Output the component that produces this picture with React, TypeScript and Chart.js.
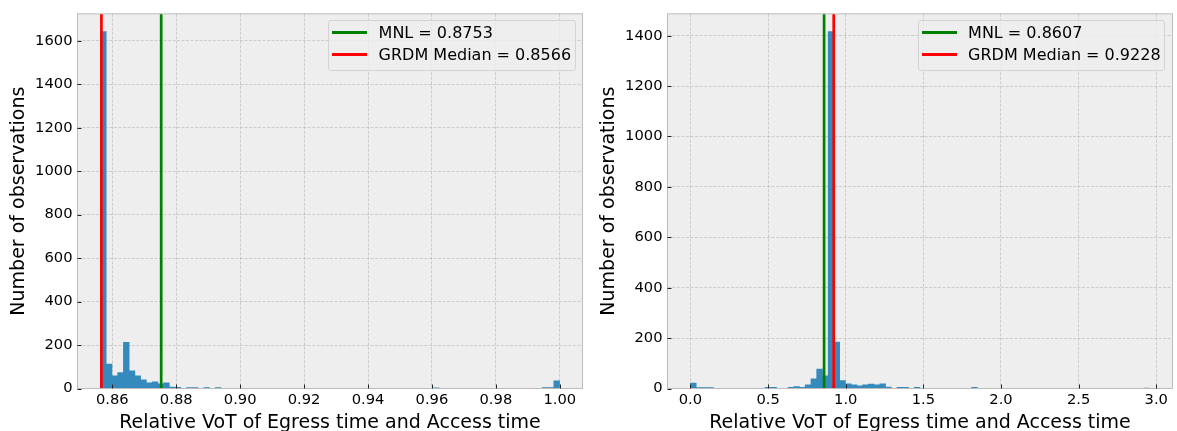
import React, { useEffect, useRef } from "react";
import { Chart, registerables } from "chart.js";

Chart.register(...registerables);

const FONT = "'DejaVu Sans', 'Liberation Sans', sans-serif";

// ---------- Left panel data ----------
const leftBinStart = 0.8563;
const leftBinEnd = 0.99992;
const leftCounts = [
  1642, 112, 58, 73, 213, 81, 58, 40, 26, 31,
  22, 26, 6, 5, 0, 4, 4, 0, 4, 0,
  4, 0, 0, 0, 0, 0, 0, 0, 0, 0,
  0, 0, 0, 0, 0, 0, 0, 0, 0, 0,
  0, 0, 0, 0, 0, 0, 0, 0, 0, 0,
  0, 0, 0, 0, 0, 0, 0, 0, 3, 0,
  0, 0, 0, 0, 0, 0, 0, 0, 0, 0,
  0, 0, 0, 0, 0, 0, 0, 4, 4, 35,
];
const leftMNL = 0.8753;
const leftGRDM = 0.8566;
const leftXTicks = [0.86, 0.88, 0.9, 0.92, 0.94, 0.96, 0.98, 1.0];
const leftXTickLabels = ["0.86", "0.88", "0.90", "0.92", "0.94", "0.96", "0.98", "1.00"];
const leftYTicks = [0, 200, 400, 600, 800, 1000, 1200, 1400, 1600];
const leftYTickLabels = ["0", "200", "400", "600", "800", "1000", "1200", "1400", "1600"];

// ---------- Right panel data ----------
const rightBinStart = 0.0;
const rightBinEnd = 2.957;
const rightCounts = [
  22, 4, 4, 4, 0, 0, 0, 0, 0, 0,
  0, 0, 0, 5, 5, 0, 0, 5, 8, 5,
  15, 38, 77, 50, 1416, 184, 31, 19, 15, 11,
  15, 18, 15, 19, 6, 0, 5, 5, 0, 5,
  0, 0, 0, 0, 0, 0, 0, 0, 0, 5,
  0, 0, 0, 0, 0, 0, 0, 0, 0, 0,
  0, 0, 0, 0, 0, 0, 0, 0, 0, 0,
  0, 0, 0, 0, 0, 0, 0, 0, 0, 1,
];
const rightMNL = 0.8607;
const rightGRDM = 0.9228;
const rightXTicks = [0, 0.5, 1.0, 1.5, 2.0, 2.5, 3.0];
const rightXTickLabels = ["0.0", "0.5", "1.0", "1.5", "2.0", "2.5", "3.0"];
const rightYTicks = [0, 200, 400, 600, 800, 1000, 1200, 1400];
const rightYTickLabels = ["0", "200", "400", "600", "800", "1000", "1200", "1400"];

const xTitle = "Relative VoT of Egress time and Access time";
const yTitle = "Number of observations";

const framePlugin = {
  id: "mplFrame",
  beforeDraw(chart: any) {
    const { ctx, chartArea: a } = chart;
    ctx.save();
    ctx.fillStyle = "#eeeeee";
    ctx.fillRect(a.left, a.top, a.right - a.left, a.bottom - a.top);
    ctx.restore();
  },
  afterDraw(chart: any) {
    const { ctx, chartArea: a, scales } = chart;
    ctx.save();
    ctx.strokeStyle = "#bcbcbc";
    ctx.lineWidth = 1;
    ctx.strokeRect(a.left, a.top, a.right - a.left, a.bottom - a.top);
    ctx.strokeStyle = "#222222";
    ctx.lineWidth = 1;
    ctx.beginPath();
    scales.x.ticks.forEach((t: any) => {
      const px = Math.round(scales.x.getPixelForValue(t.value)) + 0.5;
      ctx.moveTo(px, a.bottom);
      ctx.lineTo(px, a.bottom - 4);
    });
    scales.y.ticks.forEach((t: any) => {
      const py = Math.round(scales.y.getPixelForValue(t.value)) + 0.5;
      ctx.moveTo(a.left, py);
      ctx.lineTo(a.left + 4, py);
    });
    ctx.stroke();
    ctx.restore();
  },
};

type PanelProps = {
  counts: number[];
  binStart: number;
  binEnd: number;
  mnl: number;
  grdm: number;
  xTicks: number[];
  xTickLabels: string[];
  yTicks: number[];
  yTickLabels: string[];
  width: number;
  padRight: number;
};

function Panel(p: PanelProps) {
  const ref = useRef<HTMLCanvasElement | null>(null);
  useEffect(() => {
    if (!ref.current) return;
    const n = p.counts.length;
    const binW = (p.binEnd - p.binStart) / n;
    const range = p.binEnd - p.binStart;
    const xMin = p.binStart - 0.05 * range;
    const xMax = p.binEnd + 0.05 * range;
    const yMax = Math.max(...p.counts) * 1.05;
    const histData = p.counts.map((c, i) => ({ x: p.binStart + (i + 0.5) * binW, y: c }));
    const gridColor = "rgba(178,178,178,0.7)";
    const chart = new Chart(ref.current, {
      type: "bar",
      data: {
        datasets: [
          {
            type: "line",
            label: "MNL = " + p.mnl.toFixed(4),
            data: [
              { x: p.mnl, y: 0 },
              { x: p.mnl, y: yMax },
            ],
            borderColor: "#008000",
            borderWidth: 2.7,
            pointRadius: 0,
            order: 0,
          } as any,
          {
            type: "line",
            label: "GRDM Median = " + p.grdm.toFixed(4),
            data: [
              { x: p.grdm, y: 0 },
              { x: p.grdm, y: yMax },
            ],
            borderColor: "#ff0000",
            borderWidth: 2.7,
            pointRadius: 0,
            order: 0,
          } as any,
          {
            type: "bar",
            label: "hist",
            data: histData,
            backgroundColor: "#348ABD",
            borderWidth: 0,
            barPercentage: 1,
            categoryPercentage: 1,
            order: 1,
          } as any,
        ],
      },
      options: {
        animation: false,
        responsive: false,
        events: [],
        layout: { padding: { top: 11.5, right: p.padRight, bottom: 0, left: 0 } },
        plugins: { legend: { display: false }, tooltip: { enabled: false } },
        scales: {
          x: {
            type: "linear",
            min: xMin,
            max: xMax,
            bounds: "data",
            offset: false,
            afterBuildTicks: (s: any) => {
              s.ticks = p.xTicks.map((v) => ({ value: v }));
            },
            afterFit: (s: any) => {
              s.height = 42.5;
            },
            ticks: {
              autoSkip: false,
              maxRotation: 0,
              padding: 3,
              color: "#000",
              font: { family: FONT, size: 14.7 },
              callback: (_v: any, i: number) => p.xTickLabels[i],
            },
            grid: { color: gridColor, lineWidth: 0.8, drawTicks: false, offset: false },
            border: { display: false, dash: [3, 1.5] },
            title: {
              display: true,
              text: xTitle,
              color: "#000",
              font: { family: FONT, size: 19, lineHeight: 1 },
              padding: { top: 0, bottom: -1.5 },
            },
          },
          y: {
            type: "linear",
            min: 0,
            max: yMax,
            bounds: "data",
            afterBuildTicks: (s: any) => {
              s.ticks = p.yTicks.map((v) => ({ value: v }));
            },
            afterFit: (s: any) => {
              s.width = 77.5;
            },
            ticks: {
              autoSkip: false,
              padding: 5,
              color: "#000",
              font: { family: FONT, size: 14.7 },
              callback: (_v: any, i: number) => p.yTickLabels[i],
            },
            grid: { color: gridColor, lineWidth: 0.8, drawTicks: false },
            border: { display: false, dash: [3, 1.5] },
            title: {
              display: true,
              text: yTitle,
              color: "#000",
              font: { family: FONT, size: 19, lineHeight: 1 },
              padding: { top: 9.3, bottom: 0 },
            },
          },
        },
      } as any,
      plugins: [framePlugin],
    });
    return () => chart.destroy();
  }, []);
  return <canvas ref={ref} width={p.width} height={431} style={{ display: "block" }} />;
}

function Legend({ left, mnl, grdm }: { left: number; mnl: number; grdm: number }) {
  const items = [
    { color: "#008000", text: "MNL = " + mnl.toFixed(4) },
    { color: "#ff0000", text: "GRDM Median = " + grdm.toFixed(4) },
  ];
  return (
    <div
      style={{
        position: "absolute",
        left,
        top: 19.5,
        width: 247.5,
        height: 51,
        boxSizing: "border-box",
        border: "1px solid #d3d3d3",
        borderRadius: 3,
        background: "rgba(238,238,238,0.8)",
      }}
    >
      {items.map((it, i) => (
        <React.Fragment key={i}>
          <div
            style={{
              position: "absolute",
              left: 3,
              top: 10.5 + i * 22.4,
              width: 35,
              height: 2.7,
              background: it.color,
            }}
          />
          <div
            style={{
              position: "absolute",
              left: 49.6,
              top: 4.3 + i * 22.4,
              fontFamily: FONT,
              fontSize: 16,
              lineHeight: "16px",
              color: "#000",
              whiteSpace: "nowrap",
            }}
          >
            {it.text}
          </div>
        </React.Fragment>
      ))}
    </div>
  );
}

export default function App() {
  return (
    <div style={{ position: "absolute", left: 0, top: 0, width: 1177, height: 431, background: "#fff" }}>
      <div style={{ position: "absolute", left: 0, top: 0 }}>
        <Panel
          counts={leftCounts}
          binStart={leftBinStart}
          binEnd={leftBinEnd}
          mnl={leftMNL}
          grdm={leftGRDM}
          xTicks={leftXTicks}
          xTickLabels={leftXTickLabels}
          yTicks={leftYTicks}
          yTickLabels={leftYTickLabels}
          width={590}
          padRight={7.5}
        />
      </div>
      <div style={{ position: "absolute", left: 590, top: 0 }}>
        <Panel
          counts={rightCounts}
          binStart={rightBinStart}
          binEnd={rightBinEnd}
          mnl={rightMNL}
          grdm={rightGRDM}
          xTicks={rightXTicks}
          xTickLabels={rightXTickLabels}
          yTicks={rightYTicks}
          yTickLabels={rightYTickLabels}
          width={587}
          padRight={4.5}
        />
      </div>
      <Legend left={328} mnl={leftMNL} grdm={leftGRDM} />
      <Legend left={917.5} mnl={rightMNL} grdm={rightGRDM} />
    </div>
  );
}
